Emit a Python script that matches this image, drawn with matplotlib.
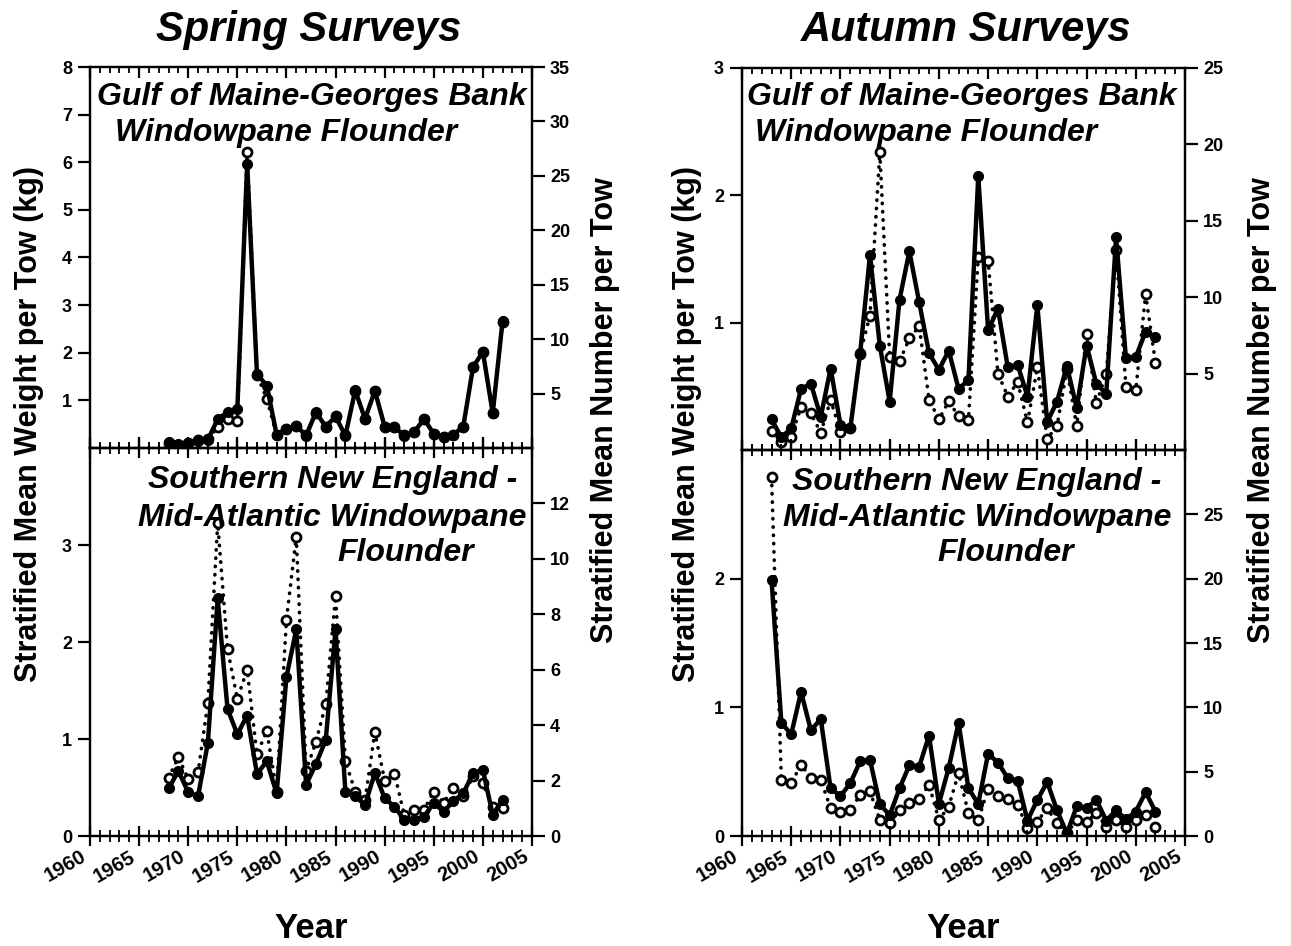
import matplotlib
matplotlib.use("Agg")
import matplotlib.pyplot as plt
from matplotlib.ticker import MultipleLocator

plt.rcParams['font.family'] = ['Liberation Sans', 'DejaVu Sans']
plt.rcParams['font.weight'] = 'bold'

W, H = 1291, 946

# ---- data ----
spring_years = list(range(1968, 2003))
autumn_years = list(range(1963, 2003))

# Spring, Gulf of Maine - Georges Bank
spr_gom_kg = [0.12, 0.08, 0.10, 0.15, 0.17, 0.61, 0.75, 0.82, 5.96, 1.55,
              1.31, 0.28, 0.40, 0.47, 0.26, 0.75, 0.45, 0.66, 0.26, 1.21,
              0.61, 1.20, 0.45, 0.44, 0.26, 0.33, 0.61, 0.30, 0.23, 0.28,
              0.45, 1.70, 2.02, 0.73, 2.66]
spr_gom_n = [0.5, 0.3, 0.5, 0.7, 0.8, 1.9, 2.66, 2.5, 27.2, 6.75,
             4.5, 1.2, 1.75, 2.05, 1.15, 3.25, 1.95, 2.9, 1.15, 5.25,
             2.65, 5.2, 1.95, 1.9, 1.15, 1.45, 2.65, 1.3, 1.0, 1.2,
             1.95, 7.4, 8.8, 3.2, 11.6]

# Spring, Southern New England - Mid-Atlantic
spr_sne_kg = [0.49, 0.67, 0.45, 0.41, 0.96, 2.45, 1.31, 1.05, 1.24, 0.64,
              0.77, 0.44, 1.64, 2.13, 0.53, 0.74, 0.99, 2.13, 0.45, 0.41,
              0.32, 0.65, 0.39, 0.30, 0.17, 0.17, 0.20, 0.34, 0.25, 0.36,
              0.44, 0.65, 0.68, 0.22, 0.37]
spr_sne_n = [2.1, 2.85, 2.05, 2.3, 4.8, 11.3, 6.75, 4.95, 6.0, 2.95,
             3.8, 1.6, 7.8, 10.8, 2.35, 3.4, 4.75, 8.65, 2.7, 1.6,
             1.3, 3.75, 2.0, 2.25, 0.75, 0.95, 0.95, 1.6, 1.2, 1.75,
             1.45, 2.15, 1.9, 1.05, 1.0]

# Autumn, Gulf of Maine - Georges Bank
aut_gom_kg = [0.24, 0.10, 0.17, 0.48, 0.52, 0.26, 0.64, 0.20, 0.17, 0.76,
              1.53, 0.82, 0.38, 1.18, 1.56, 1.16, 0.76, 0.63, 0.78, 0.48,
              0.55, 2.15, 0.94, 1.11, 0.65, 0.67, 0.42, 1.14, 0.22, 0.38,
              0.66, 0.33, 0.82, 0.52, 0.44, 1.67, 0.72, 0.73, 0.93, 0.89]
aut_gom_n = [1.26, 0.54, 0.87, 2.83, 2.4, 1.13, 3.27, 1.2, 1.42, 6.3,
             8.8, 19.5, 6.1, 5.8, 7.3, 8.1, 3.3, 2.0, 3.2, 2.2,
             1.95, 12.6, 12.4, 5.0, 3.5, 4.45, 1.8, 5.4, 0.75, 1.55,
             5.3, 1.55, 7.6, 3.05, 5.0, 13.1, 4.15, 3.9, 10.2, 5.7]

# Autumn, Southern New England - Mid-Atlantic
aut_sne_kg = [1.99, 0.88, 0.79, 1.12, 0.82, 0.91, 0.37, 0.31, 0.41, 0.58,
              0.59, 0.25, 0.16, 0.37, 0.55, 0.54, 0.78, 0.25, 0.53, 0.88,
              0.37, 0.25, 0.64, 0.57, 0.45, 0.43, 0.12, 0.28, 0.42, 0.20,
              0.02, 0.23, 0.22, 0.28, 0.12, 0.20, 0.13, 0.19, 0.34, 0.19]
aut_sne_n = [27.9, 4.37, 4.1, 5.55, 4.5, 4.37, 2.16, 1.9, 2.0, 3.2,
             3.46, 1.25, 0.99, 2.0, 2.55, 2.87, 3.98, 1.25, 2.29, 4.9,
             1.77, 1.25, 3.65, 3.07, 2.87, 2.42, 0.6, 1.12, 2.16, 0.99,
             0.2, 1.25, 1.12, 1.77, 0.73, 1.25, 0.73, 1.25, 1.64, 0.73]


def rect(x0, y0, x1, y1):
    return [x0 / W, 1 - y1 / H, (x1 - x0) / W, (y1 - y0) / H]


def panel(box, years, kg, num, kg_lim, kg_ticks, n_lim, n_ticks, top):
    ax = fig.add_axes(rect(*box))
    ax2 = ax.twinx()

    ax2.plot(years, num, color='black', lw=2.6, linestyle=(0, (0.1, 2.2)),
             dash_capstyle='round', marker='o', ms=6.5, mfc='white',
             mec='black', mew=2.0)
    ax.plot(years, kg, color='black', lw=3.2, marker='o', ms=7,
            mfc='black', mec='black')
    ax.set_zorder(ax2.get_zorder() + 1)
    ax.patch.set_visible(False)

    ax.set_xlim(1960, 2005)
    ax.set_ylim(*kg_lim)
    ax2.set_ylim(*n_lim)
    ax.set_yticks(kg_ticks)
    ax2.set_yticks(n_ticks)
    ax.xaxis.set_major_locator(MultipleLocator(5))
    ax.xaxis.set_minor_locator(MultipleLocator(1))

    for a in (ax, ax2):
        for s in a.spines.values():
            s.set_linewidth(1.6)
    ax.tick_params(axis='y', direction='out', length=9, width=1.6,
                   labelsize=13, pad=4)
    ax2.tick_params(axis='y', direction='out', length=9, width=1.6,
                    labelsize=13, pad=4)
    if top:
        ax.tick_params(axis='x', which='major', direction='in', top=True,
                       bottom=True, length=8, width=1.6, labelbottom=False)
        ax.tick_params(axis='x', which='minor', direction='in', top=True,
                       bottom=True, length=4.5, width=1.3)
    else:
        ax.tick_params(axis='x', which='major', direction='inout', top=True,
                       bottom=True, length=14, width=1.6, labelsize=14.5,
                       pad=1)
        ax.tick_params(axis='x', which='minor', direction='inout', top=True,
                       bottom=True, length=8, width=1.3)
        for lab in ax.get_xticklabels():
            lab.set_rotation(30)
            lab.set_ha('right')
    return ax


fig = plt.figure(figsize=(W / 100, H / 100), dpi=100)

panel((90, 67, 532, 448), spring_years, spr_gom_kg, spr_gom_n,
      (0, 8), [1, 2, 3, 4, 5, 6, 7, 8], (0, 35), [5, 10, 15, 20, 25, 30, 35], True)
panel((90, 448, 532, 836), spring_years, spr_sne_kg, spr_sne_n,
      (0, 4), [0, 1, 2, 3], (0, 14), [0, 2, 4, 6, 8, 10, 12], False)
panel((742, 68, 1185, 450), autumn_years, aut_gom_kg, aut_gom_n,
      (0, 3), [1, 2, 3], (0, 25), [5, 10, 15, 20, 25], True)
panel((742, 450, 1185, 836), autumn_years, aut_sne_kg, aut_sne_n,
      (0, 3), [0, 1, 2], (0, 30), [0, 5, 10, 15, 20, 25], False)


def ftext(x, y, s, **kw):
    fig.text(x / W, 1 - y / H, s, **kw)


sub = dict(fontsize=23, fontweight='bold', style='italic', ha='left', va='center')
ftext(97, 97, 'Gulf of Maine-Georges Bank', **sub)
ftext(115, 133, 'Windowpane Flounder', **sub)
ftext(747, 97, 'Gulf of Maine-Georges Bank', **sub)
ftext(755, 133, 'Windowpane Flounder', **sub)
ftext(148, 480, 'Southern New England -', **sub)
ftext(138, 518, 'Mid-Atlantic Windowpane', **sub)
ftext(337, 553, 'Flounder', **sub)
ftext(792, 482, 'Southern New England -', **sub)
ftext(783, 518, 'Mid-Atlantic Windowpane', **sub)
ftext(937, 553, 'Flounder', **sub)

ttl = dict(fontsize=30, fontweight='bold', style='italic', ha='center', va='center')
ftext(309, 30, 'Spring Surveys', **ttl)
ftext(966, 30, 'Autumn Surveys', **ttl)

xl = dict(fontsize=25, fontweight='bold', ha='center', va='center')
ftext(311, 928, 'Year', **xl)
ftext(963, 928, 'Year', **xl)

yl = dict(fontsize=22, fontweight='bold', ha='center', va='center', rotation=90)
ftext(29, 424, 'Stratified Mean Weight per Tow (kg)', **yl)
ftext(605, 410, 'Stratified Mean Number per Tow', **yl)
ftext(687, 424, 'Stratified Mean Weight per Tow (kg)', **yl)
ftext(1262, 410, 'Stratified Mean Number per Tow', **yl)

fig.savefig('out.png', dpi=100)
